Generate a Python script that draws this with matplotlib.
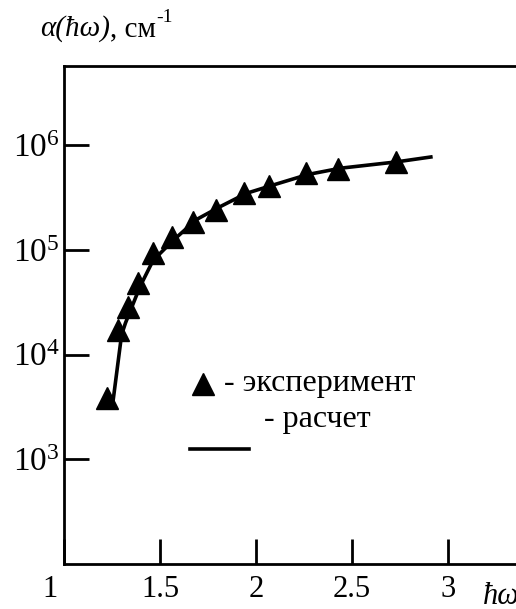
import matplotlib
matplotlib.use("Agg")
import matplotlib.pyplot as plt
from matplotlib.lines import Line2D
import matplotlib.transforms as mtransforms

plt.rcParams["font.family"] = ["Liberation Serif", "DejaVu Serif"]
plt.rcParams["mathtext.fontset"] = "custom"
plt.rcParams["mathtext.rm"] = "Liberation Serif"
plt.rcParams["mathtext.it"] = "Liberation Serif:italic"
plt.rcParams["mathtext.default"] = "rm"

# experiment (triangles)
exp_energy = [1.224, 1.28, 1.333, 1.385, 1.463, 1.5625, 1.67, 1.79, 1.94, 2.07, 2.26, 2.427, 2.729]
exp_alpha = [3.85e3, 1.72e4, 2.85e4, 4.83e4, 9.35e4, 1.33e5, 1.85e5, 2.41e5, 3.49e5, 4.07e5, 5.42e5, 5.93e5, 6.92e5]

# calculation (solid line)
calc_energy = [1.255, 1.30, 1.32, 1.396, 1.464, 1.568, 1.69, 1.81, 1.95, 2.09, 2.27, 2.44, 2.73, 2.92]
calc_alpha = [3.55e3, 1.55e4, 2.0e4, 4.47e4, 7.94e4, 1.23e5, 1.95e5, 2.57e5, 3.47e5, 4.17e5, 5.25e5, 6.03e5, 6.92e5, 7.76e5]

x_ticks = [1, 1.5, 2, 2.5, 3]
x_labels = ["1", "1.5", "2", "2.5", "3"]
y_ticks = [1e3, 1e4, 1e5, 1e6]
y_labels = [r"$10^{3}$", r"$10^{4}$", r"$10^{5}$", r"$10^{6}$"]

W, H = 516, 609
fig = plt.figure(figsize=(W / 100, H / 100), dpi=100)
ax = fig.add_axes([64 / W, 1 - 564 / H, (540 - 64) / W, 498 / H])

ax.plot(calc_energy, calc_alpha, color="black", lw=2.6, solid_capstyle="butt", zorder=2)
ax.plot(exp_energy, exp_alpha, linestyle="none", marker="^", ms=16, color="black", zorder=3)

ax.set_yscale("log")
ax.set_xlim(1, 1 + 476 / 192)
ax.set_ylim(100, 10 ** (2 + 498 / 104.7))

ax.set_xticks(x_ticks)
ax.set_xticklabels(x_labels)
ax.set_yticks(y_ticks)
ax.set_yticklabels(y_labels)
ax.minorticks_off()
ax.tick_params(direction="in", length=18, width=2)
ax.tick_params(axis="x", pad=8, labelsize=22)
ax.tick_params(axis="y", pad=3, labelsize=24)
for s in ax.spines.values():
    s.set_linewidth(2)

# the "1" label sits a bit to the left of the origin
lbl = ax.get_xticklabels()[0]
lbl.set_transform(lbl.get_transform() + mtransforms.ScaledTranslation(-0.14, 0, fig.dpi_scale_trans))

# y axis title: italic quantity, upright unit, superscript power
t1 = fig.text(40 / W, 1 - 36 / H, "α(ħω)", fontsize=21, style="italic", ha="left", va="baseline")
t2 = ax.annotate(", см", xy=(1, 0), xycoords=t1, fontsize=21, ha="left", va="bottom",
                 annotation_clip=False)
ax.annotate("-1", xy=(1, 0.62), xycoords=t2, fontsize=14, ha="left", va="bottom",
            annotation_clip=False)

# x axis title, cut by the right edge as in the original
fig.text(483 / W, 1 - 604 / H, "ħω", fontsize=22, style="italic", ha="left", va="baseline")

# hand-drawn legend
fig.add_artist(Line2D([203 / W], [1 - 384 / H], marker="^", ms=16, color="black", transform=fig.transFigure))
fig.text(224 / W, 1 - 384 / H, "- эксперимент", fontsize=23, ha="left", va="center")
fig.text(264 / W, 1 - 420 / H, "- расчет", fontsize=23, ha="left", va="center")
fig.add_artist(Line2D([190 / W, 249 / W], [1 - 449 / H, 1 - 449 / H], color="black", lw=2.6,
                      transform=fig.transFigure))

fig.savefig("out.png", dpi=100)
